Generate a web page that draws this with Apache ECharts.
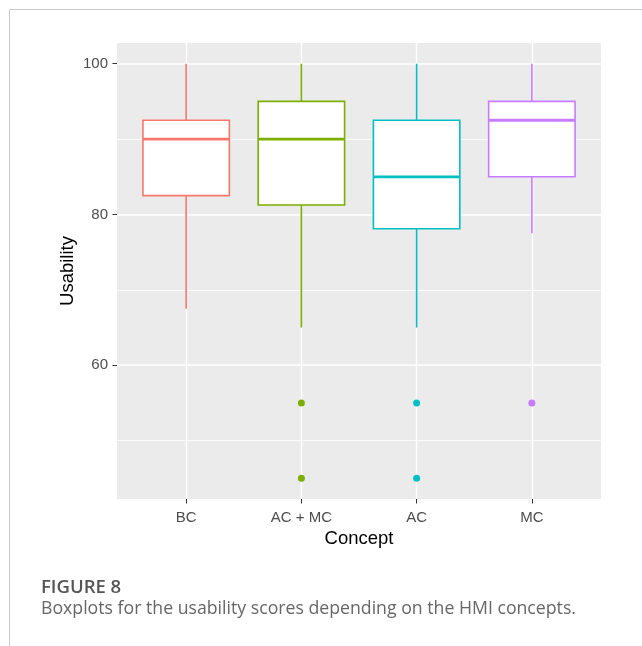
<!DOCTYPE html>
<html>
<head>
<meta charset="utf-8">
<script src="https://cdn.jsdelivr.net/npm/echarts@6/dist/echarts.min.js"></script>
<style>
  html, body { margin: 0; padding: 0; background: #ffffff; }
  #chart { width: 642px; height: 646px; }
</style>
</head>
<body>
<div id="chart"></div>
<script>
// ---- data ----
const categories   = ['BC', 'AC + MC', 'AC', 'MC'];
const whiskerLow   = [67.5, 65, 65, 77.5];
const quartile1    = [82.5, 81.25, 78.1, 85];
const medians      = [90, 90, 85, 92.5];
const quartile3    = [92.5, 95, 92.5, 95];
const whiskerHigh  = [100, 100, 100, 100];
const outlierGroup = ['AC + MC', 'AC + MC', 'AC', 'AC', 'MC'];
const outlierValue = [55, 45, 55, 45, 55];
const yTicks       = [60, 80, 100];
const yMinorTicks  = [50, 70, 90];

// ---- styling ----
const palette = ['#F8766D', '#7CAE00', '#00BFC4', '#C77CFF'];
const catPos = categories.map((c, i) => i + 1);

const boxData = categories.map((c, i) => [i + 1, whiskerLow[i], quartile1[i], medians[i], quartile3[i], whiskerHigh[i]]);
const outlierData = outlierGroup.map((g, i) => [categories.indexOf(g) + 1, outlierValue[i]]);

const chart = echarts.init(document.getElementById('chart'), null, { renderer: 'canvas' });

const option = {
  animation: false,
  backgroundColor: '#ffffff',
  title: [
    {
      text: 'FIGURE 8',
      left: 41, top: 578, padding: 0,
      textStyle: { fontFamily: 'Open Sans', fontSize: 18.5, fontWeight: 600, color: '#555555' }
    },
    {
      text: 'Boxplots for the usability scores depending on the HMI concepts.',
      left: 41, top: 600, padding: 0,
      textStyle: { fontFamily: 'Open Sans', fontSize: 17.7, fontWeight: 'normal', color: '#666666' }
    }
  ],
  graphic: [
    { type: 'line', shape: { x1: 9.5, y1: 9.5, x2: 642, y2: 9.5 }, style: { stroke: '#c8c8c8', lineWidth: 1 } },
    { type: 'line', shape: { x1: 9.5, y1: 9.5, x2: 9.5, y2: 646 }, style: { stroke: '#c8c8c8', lineWidth: 1 } }
  ],
  grid: {
    left: 117, top: 43, width: 484, height: 456,
    show: true, backgroundColor: '#EBEBEB', borderWidth: 0,
    containLabel: false
  },
  xAxis: {
    type: 'value', min: 0.4, max: 4.6,
    name: 'Concept', nameLocation: 'middle', nameGap: 29,
    nameTextStyle: { fontFamily: 'Liberation Sans', fontSize: 18.5, color: '#000000' },
    axisLine: { show: false },
    axisTick: { show: true, customValues: catPos, length: 4.5, lineStyle: { color: '#333333', width: 1 } },
    axisLabel: {
      customValues: catPos, margin: 11,
      fontFamily: 'Liberation Sans', fontSize: 15, color: '#4D4D4D',
      formatter: v => categories[Math.round(v) - 1] || ''
    },
    splitLine: { show: true, lineStyle: { color: '#ffffff', width: 1.4 } }
  },
  yAxis: [
    {
      type: 'value', min: 42.25, max: 102.75,
      name: 'Usability', nameLocation: 'middle', nameGap: 40, nameMoveOverlap: false,
      nameTextStyle: { fontFamily: 'Liberation Sans', fontSize: 18.5, color: '#000000' },
      axisLine: { show: false },
      axisTick: { show: true, customValues: yTicks, length: 4.5, lineStyle: { color: '#333333', width: 1 } },
      axisLabel: { customValues: yTicks, margin: 9, fontFamily: 'Liberation Sans', fontSize: 15, color: '#4D4D4D' },
      splitLine: { show: true, lineStyle: { color: '#ffffff', width: 1.5 } }
    },
    {
      type: 'value', min: 42.25, max: 102.75, position: 'left',
      axisLine: { show: false },
      axisTick: { show: false, customValues: yMinorTicks },
      axisLabel: { show: false, customValues: yMinorTicks },
      splitLine: { show: true, lineStyle: { color: '#ffffff', width: 0.8 } }
    }
  ],
  series: [
    {
      type: 'custom',
      data: boxData,
      encode: { x: 0, y: [1, 2, 3, 4, 5] },
      z: 5,
      renderItem: function (params, api) {
        const x = api.value(0);
        const lo = api.coord([x, api.value(1)]);
        const q1 = api.coord([x, api.value(2)]);
        const md = api.coord([x, api.value(3)]);
        const q3 = api.coord([x, api.value(4)]);
        const hi = api.coord([x, api.value(5)]);
        const half = api.size([0.75, 0])[0] / 2;
        const color = palette[params.dataIndex];
        const lw = 1.6;
        return {
          type: 'group',
          children: [
            { type: 'line', shape: { x1: lo[0], y1: lo[1], x2: q1[0], y2: q1[1] }, style: { stroke: color, lineWidth: lw } },
            { type: 'line', shape: { x1: q3[0], y1: q3[1], x2: hi[0], y2: hi[1] }, style: { stroke: color, lineWidth: lw } },
            { type: 'rect', shape: { x: q3[0] - half, y: q3[1], width: 2 * half, height: q1[1] - q3[1] },
              style: { fill: '#ffffff', stroke: color, lineWidth: lw } },
            { type: 'line', shape: { x1: md[0] - half, y1: md[1], x2: md[0] + half, y2: md[1] },
              style: { stroke: color, lineWidth: 2.8 } }
          ]
        };
      }
    },
    {
      type: 'scatter',
      data: outlierData,
      symbol: 'circle',
      symbolSize: 7,
      z: 6,
      itemStyle: { color: p => palette[p.value[0] - 1], opacity: 1 }
    }
  ]
};
chart.setOption(option);
</script>
</body>
</html>
